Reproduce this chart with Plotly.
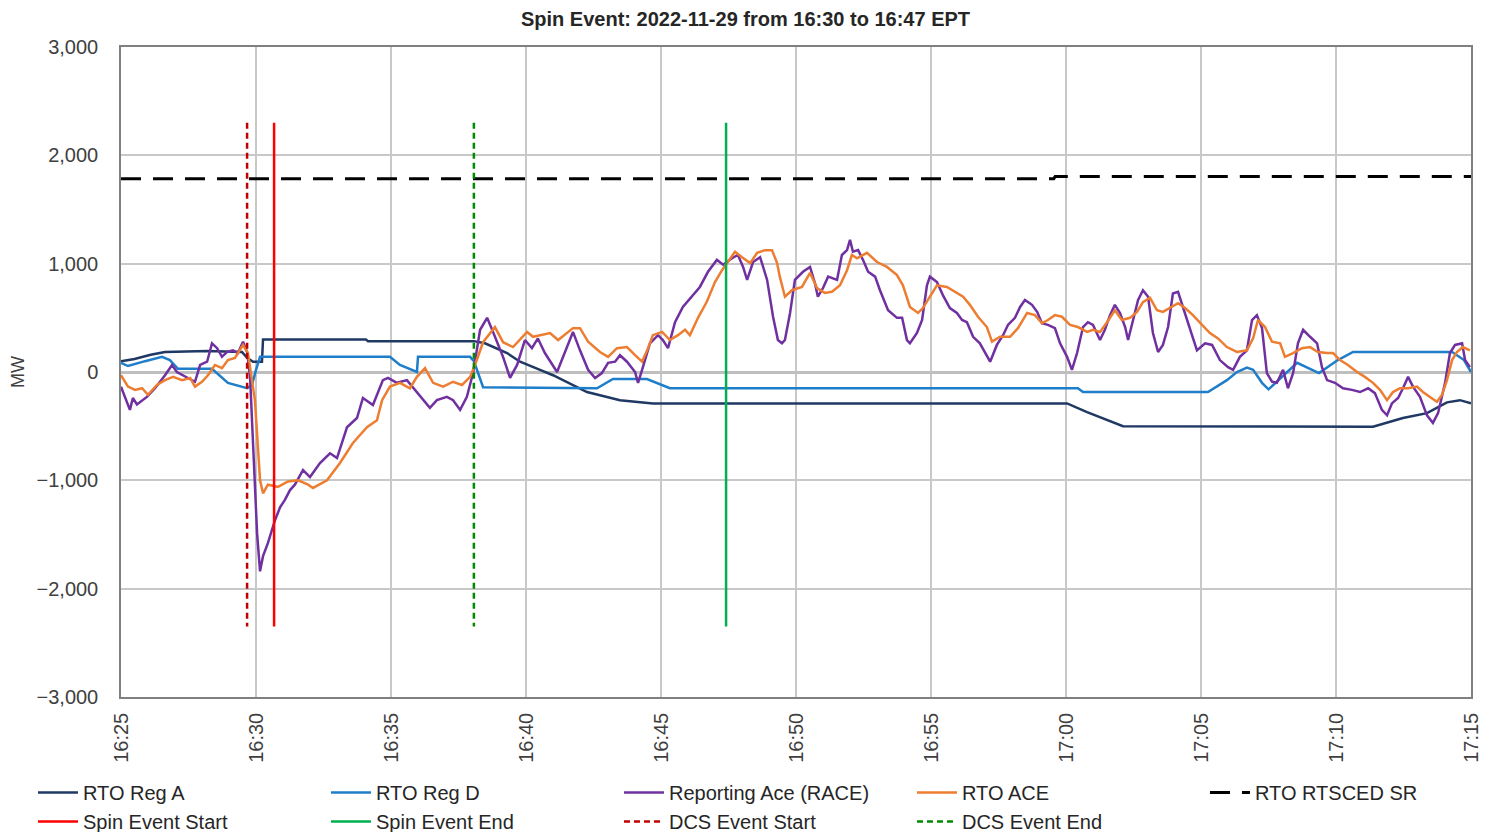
import pandas as pd
import plotly.graph_objects as go

# ---------------- data (minutes after 16:25, MW) ----------------
BASE = "2022-11-29 16:25:00"
x_start, x_end = "2022-11-29 16:25:00", "2022-11-29 17:15:00"

reg_a = [(0.00, 100), (0.50, 120), (1.10, 160), (1.63, 185), (3.20, 195), (4.48, 185),
         (4.67, 130), (4.89, 95), (5.22, 95), (5.26, 300), (9.07, 300), (9.15, 285),
         (13.07, 285), (13.48, 265), (14.30, 175), (14.78, 95), (15.52, 20), (16.00, -30),
         (17.26, -185), (18.48, -260), (19.70, -290), (35.04, -290), (35.78, -370),
         (36.52, -445), (37.11, -500), (46.37, -505), (47.48, -425), (48.37, -380),
         (49.11, -280), (49.59, -260), (50.00, -290)]

reg_d = [(0.00, 85), (0.26, 55), (0.89, 100), (1.52, 140), (1.81, 110), (2.11, 30),
         (3.37, 30), (3.96, -100), (4.67, -150), (4.85, -120), (5.00, 20), (5.15, 140),
         (9.96, 140), (10.33, 65), (10.96, 0), (11.00, 140), (12.93, 140), (13.07, 100),
         (13.41, -140), (17.63, -150), (18.22, -65), (19.48, -65), (20.33, -150),
         (35.44, -150), (35.63, -185), (40.26, -185), (40.96, -75), (41.33, 0),
         (41.70, 40), (41.93, 20), (42.26, -100), (42.50, -160), (43.56, 85),
         (44.37, -10), (45.07, 110), (45.63, 185), (49.30, 185), (49.74, 110), (50.00, 0)]

race = [(0.00, -135), (0.33, -350), (0.44, -240), (0.59, -300), (0.96, -230), (1.26, -150),
        (1.63, -30), (1.89, 65), (2.07, 0), (2.26, -25), (2.48, -55), (2.74, -90),
        (2.93, 65), (3.19, 95), (3.37, 265), (3.56, 220), (3.74, 140), (3.93, 185),
        (4.15, 200), (4.33, 175), (4.52, 280), (4.67, 185), (4.78, -45), (4.89, -720),
        (5.04, -1490), (5.15, -1840), (5.26, -1700), (5.44, -1580), (5.70, -1370),
        (5.89, -1250), (6.07, -1180), (6.26, -1090), (6.44, -1040), (6.74, -905),
        (7.00, -970), (7.37, -840), (7.74, -750), (8.00, -795), (8.37, -510), (8.74, -425),
        (8.96, -240), (9.33, -305), (9.70, -75), (9.89, -55), (10.22, -100), (10.59, -75),
        (10.89, -165), (11.07, -210), (11.44, -330), (11.70, -260), (12.07, -230),
        (12.30, -260), (12.56, -350), (12.81, -230), (13.04, -10), (13.30, 390),
        (13.56, 500), (13.78, 370), (14.15, 140), (14.41, -55), (14.67, 65), (14.96, 295),
        (15.22, 220), (15.44, 310), (15.70, 175), (16.15, 0), (16.44, 175), (16.74, 370),
        (17.00, 200), (17.30, 20), (17.56, -55), (17.81, -10), (18.04, 85), (18.30, 95),
        (18.48, 155), (18.74, 95), (19.04, 0), (19.15, -100), (19.33, 45), (19.59, 265),
        (19.89, 340), (20.07, 295), (20.26, 220), (20.52, 460), (20.81, 600), (21.15, 695),
        (21.44, 785), (21.74, 925), (22.07, 1035), (22.30, 990), (22.63, 1050),
        (22.85, 1080), (23.04, 970), (23.19, 850), (23.41, 1015), (23.67, 1060),
        (23.93, 850), (24.15, 510), (24.33, 295), (24.48, 265), (24.59, 295), (24.78, 545),
        (24.96, 850), (25.26, 925), (25.52, 970), (25.70, 820), (25.81, 695), (26.00, 775),
        (26.19, 880), (26.52, 850), (26.70, 1080), (26.89, 1125), (27.00, 1220),
        (27.11, 1110), (27.30, 1125), (27.48, 1035), (27.67, 925), (27.93, 880),
        (28.11, 755), (28.41, 570), (28.74, 500), (28.93, 500), (29.11, 295), (29.22, 265),
        (29.48, 360), (29.67, 480), (29.85, 800), (29.96, 880), (30.22, 830), (30.44, 710),
        (30.70, 590), (30.96, 545), (31.15, 480), (31.33, 460), (31.56, 325), (31.81, 265),
        (32.00, 175), (32.19, 95), (32.44, 250), (32.67, 340), (32.85, 435), (33.11, 500),
        (33.30, 600), (33.48, 665), (33.74, 620), (33.93, 555), (34.11, 450), (34.33, 435),
        (34.59, 405), (34.78, 265), (35.04, 140), (35.22, 20), (35.41, 175), (35.63, 415),
        (35.81, 460), (36.00, 435), (36.26, 295), (36.44, 390), (36.63, 525), (36.81, 620),
        (37.00, 545), (37.19, 415), (37.30, 295), (37.48, 480), (37.67, 665), (37.85, 755),
        (38.04, 695), (38.22, 360), (38.41, 185), (38.59, 250), (38.78, 415), (38.96, 725),
        (39.15, 740), (39.33, 600), (39.59, 390), (39.85, 200), (40.15, 265), (40.41, 250),
        (40.70, 110), (41.00, 45), (41.19, 20), (41.44, 140), (41.70, 200), (41.89, 480),
        (42.07, 525), (42.26, 405), (42.44, -10), (42.63, -90), (42.81, -100), (43.04, 20),
        (43.22, -150), (43.41, -10), (43.59, 265), (43.78, 390), (44.04, 325), (44.30, 265),
        (44.48, 45), (44.67, -75), (44.96, -100), (45.26, -150), (45.59, -165),
        (45.89, -185), (46.19, -150), (46.44, -195), (46.70, -350), (46.89, -400),
        (47.07, -290), (47.30, -240), (47.48, -150), (47.67, -45), (47.85, -135),
        (48.11, -230), (48.37, -400), (48.59, -470), (48.78, -380), (49.04, -100),
        (49.22, 175), (49.41, 250), (49.67, 265), (49.78, 110), (49.96, 45)]

ace = [(0.00, -30), (0.26, -135), (0.52, -165), (0.78, -150), (1.00, -210), (1.33, -120),
       (1.63, -75), (1.93, -45), (2.26, -75), (2.56, -55), (2.74, -135), (3.00, -90),
       (3.22, -30), (3.48, 65), (3.74, 35), (3.96, 110), (4.22, 130), (4.52, 250),
       (4.70, 175), (4.96, -260), (5.15, -1000), (5.26, -1120), (5.44, -1040),
       (5.81, -1060), (6.19, -1010), (6.56, -1000), (6.93, -1040), (7.11, -1070),
       (7.63, -1000), (8.11, -840), (8.59, -655), (9.11, -510), (9.48, -445), (9.67, -260),
       (9.96, -135), (10.33, -100), (10.70, -150), (10.96, -45), (11.26, 35),
       (11.56, -100), (11.93, -135), (12.30, -90), (12.63, -120), (12.93, -45),
       (13.11, 65), (13.41, 275), (13.85, 415), (14.15, 275), (14.52, 230), (15.04, 370),
       (15.26, 325), (15.59, 340), (15.89, 360), (16.19, 295), (16.52, 360), (16.74, 405),
       (17.00, 405), (17.30, 280), (17.74, 185), (18.04, 140), (18.37, 220), (18.74, 230),
       (19.04, 155), (19.30, 95), (19.52, 220), (19.70, 340), (20.04, 370), (20.33, 295),
       (20.63, 340), (20.89, 390), (21.07, 340), (21.37, 500), (21.70, 650), (22.00, 830),
       (22.26, 940), (22.48, 1015), (22.74, 1110), (23.00, 1060), (23.30, 1005),
       (23.56, 1100), (23.85, 1125), (24.11, 1125), (24.30, 1005), (24.40, 880),
       (24.59, 695), (24.85, 755), (25.22, 785), (25.52, 915), (25.78, 775), (26.07, 730),
       (26.33, 740), (26.63, 800), (26.89, 940), (27.07, 1080), (27.26, 1050),
       (27.63, 1100), (28.00, 1015), (28.37, 970), (28.74, 895), (28.96, 800),
       (29.22, 600), (29.52, 545), (29.70, 590), (29.96, 695), (30.22, 800), (30.59, 785),
       (30.89, 740), (31.19, 695), (31.44, 620), (31.74, 510), (32.07, 415), (32.26, 280),
       (32.56, 325), (32.93, 325), (33.22, 405), (33.56, 545), (33.85, 525), (34.11, 450),
       (34.33, 480), (34.59, 525), (34.85, 510), (35.15, 435), (35.44, 415), (35.78, 370),
       (36.00, 390), (36.26, 370), (36.52, 460), (36.81, 570), (37.07, 480), (37.37, 500),
       (37.63, 555), (37.85, 645), (38.11, 685), (38.37, 570), (38.59, 555), (38.93, 600),
       (39.15, 635), (39.41, 590), (39.70, 525), (40.04, 435), (40.33, 360), (40.63, 310),
       (40.96, 230), (41.33, 185), (41.70, 200), (41.93, 310), (42.11, 480), (42.37, 415),
       (42.63, 280), (42.93, 265), (43.11, 140), (43.41, 175), (43.74, 220), (44.04, 230),
       (44.33, 185), (44.67, 175), (44.89, 175), (45.15, 110), (45.44, 65), (45.78, 0),
       (46.07, -45), (46.37, -100), (46.63, -165), (46.89, -260), (47.11, -185),
       (47.37, -150), (47.67, -150), (48.00, -135), (48.22, -185), (48.48, -230),
       (48.74, -275), (48.93, -210), (49.11, -75), (49.30, 110), (49.48, 185), (49.70, 230),
       (49.96, 200)]

rtsced_sr = [(0.00, 1785), (34.55, 1785), (34.60, 1805), (50.00, 1805)]

spin_start_min, spin_end_min = 5.67, 22.41
dcs_start_min, dcs_end_min = 4.67, 13.07
event_line_span = [2300, -2350]

# ---------------- helpers ----------------
base = pd.Timestamp(BASE)


def to_time(mins):
    return [base + pd.Timedelta(minutes=m) for m in mins]


def split(points):
    m, v = zip(*points)
    return to_time(m), list(v)


FONT = "Liberation Sans, Arial, sans-serif"

fig = go.Figure()

series = [
    ("RTO Reg A", reg_a, "#1F3864", 2.5, "solid"),
    ("RTO Reg D", reg_d, "#1F7EC9", 2.5, "solid"),
    ("Reporting Ace (RACE)", race, "#7030A0", 2.5, "solid"),
    ("RTO ACE", ace, "#ED7D31", 2.5, "solid"),
    ("RTO RTSCED SR", rtsced_sr, "#000000", 3, "20px,12px"),
]
for name, pts, color, w, dash in series:
    t, v = split(pts)
    fig.add_trace(go.Scatter(x=t, y=v, mode="lines", name=name,
                             line=dict(color=color, width=w, dash=dash)))

vlines = [
    ("Spin Event Start", spin_start_min, "#FF0000", "solid"),
    ("Spin Event End", spin_end_min, "#00B050", "solid"),
    ("DCS Event Start", dcs_start_min, "#C00000", "6px,4px"),
    ("DCS Event End", dcs_end_min, "#008A00", "6px,4px"),
]
for name, m, color, dash in vlines:
    fig.add_trace(go.Scatter(x=to_time([m, m]), y=event_line_span, mode="lines", name=name,
                             line=dict(color=color, width=2.5, dash=dash)))

fig.update_layout(
    width=1481, height=824,
    margin=dict(l=113, r=18, t=39, b=135, autoexpand=False),
    paper_bgcolor="white", plot_bgcolor="white",
    font=dict(family=FONT, size=19, color="#404040"),
    title=dict(text="<b>Spin Event: 2022-11-29 from 16:30 to 16:47 EPT</b>",
               x=0.498, xref="container", y=0.995, yanchor="top",
               pad=dict(t=0, b=0),
               font=dict(family=FONT, size=20, color="#262626")),
    showlegend=True,
    legend=dict(orientation="h", xref="paper", x=-0.0652, xanchor="left",
                yref="paper", y=-0.1169, yanchor="top",
                entrywidth=238, traceorder="normal",
                font=dict(family=FONT, size=20, color="#262626"),
                itemwidth=40, tracegroupgap=0, bgcolor="rgba(0,0,0,0)"),
)

fig.update_xaxes(
    type="date", range=[x_start, x_end], dtick=5 * 60 * 1000, tick0=x_start,
    tickformat="%H:%M", tickangle=-90, showgrid=True, gridcolor="#C8C8C8", gridwidth=1.5,
    showline=True, linecolor="#808080", linewidth=1.5, mirror=True,
    ticks="outside", ticklen=6, tickcolor="rgba(0,0,0,0)", ticklabeloverflow="allow",
    tickfont=dict(family=FONT, size=20, color="#404040"), zeroline=False,
)
fig.update_yaxes(
    range=[-3000, 3000], dtick=1000, tickformat=",", showgrid=True, gridcolor="#C8C8C8",
    gridwidth=1.5, zeroline=True, zerolinecolor="#BFBFBF", zerolinewidth=2.5,
    showline=True, linecolor="#808080", linewidth=1.5, mirror=True,
    ticks="outside", ticklen=17, tickcolor="rgba(0,0,0,0)", ticklabeloverflow="allow",
    tickfont=dict(family=FONT, size=20, color="#404040"),
    title=dict(text="MW", font=dict(family=FONT, size=18, color="#404040"), standoff=7),
)

fig.write_html("out.html")
